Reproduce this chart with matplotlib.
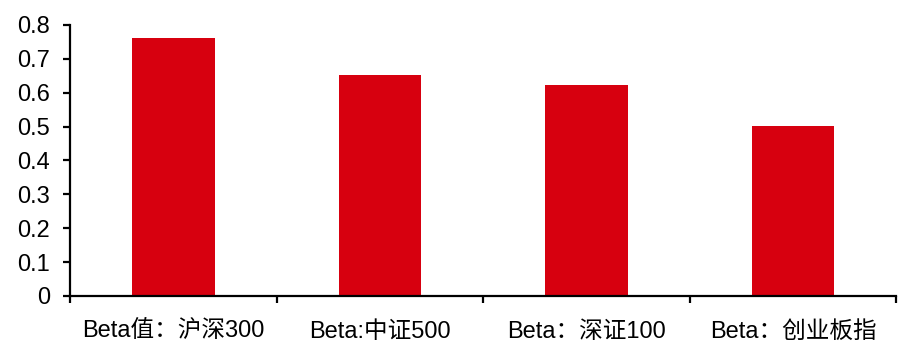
import matplotlib.pyplot as plt

plt.rcParams['font.family'] = ['Liberation Sans', 'Noto Sans CJK SC', 'DejaVu Sans']

categories = ["Beta值：沪深300", "Beta:中证500", "Beta：深证100", "Beta：创业板指"]
values = [0.76, 0.652, 0.624, 0.503]
y_ticks = [0, 0.1, 0.2, 0.3, 0.4, 0.5, 0.6, 0.7, 0.8]
y_labels = ["0", "0.1", "0.2", "0.3", "0.4", "0.5", "0.6", "0.7", "0.8"]

fig = plt.figure(figsize=(9, 3.51), dpi=100)
ax = fig.add_axes([0.078, 0.157, 0.918, 0.772])

x = list(range(len(categories)))
ax.bar(x, values, width=0.4, color="#D7000F")

ax.set_xlim(-0.5, len(categories) - 0.5)
ax.set_ylim(0, 0.8)
ax.set_yticks(y_ticks)
ax.set_yticklabels(y_labels, fontsize=17)

# category labels centred, ticks at the boundaries
ax.set_xticks(x)
ax.set_xticklabels(categories, fontsize=17)
ax.tick_params(axis='x', which='major', length=0, pad=18)
ax.set_xticks([i - 0.5 for i in range(len(categories) + 1)], minor=True)
ax.tick_params(axis='x', which='minor', length=5, width=1.6, direction='out')
ax.tick_params(axis='y', length=5, width=1.6, direction='out', pad=9.5)

for s in ['top', 'right']:
    ax.spines[s].set_visible(False)
ax.spines['left'].set_linewidth(1.6)
ax.spines['bottom'].set_linewidth(1.6)

fig.savefig("out.png", dpi=100)
